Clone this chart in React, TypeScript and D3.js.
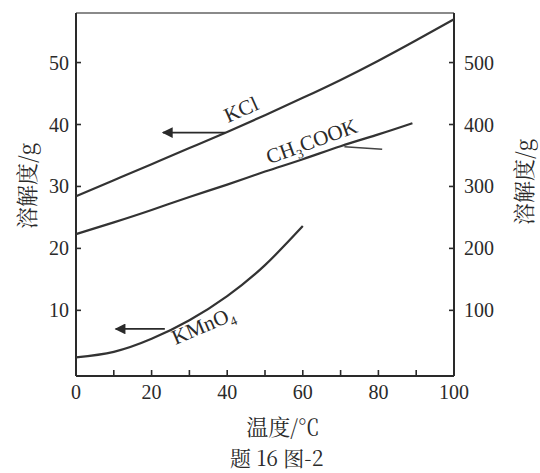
import React from "react";
import * as d3 from "d3";

const temps = [0, 10, 20, 30, 40, 50, 60, 70, 80, 90, 100];
const kclValues = [28.4, 31.0, 33.6, 36.2, 38.8, 41.5, 44.3, 47.2, 50.3, 53.6, 57.0];
const ch3cookTemps = [0, 10, 20, 30, 40, 50, 60, 70, 80, 89];
const ch3cookValues = [22.3, 24.2, 26.2, 28.3, 30.3, 32.4, 34.4, 36.5, 38.4, 40.2];
const kmno4Temps = [0, 10, 20, 30, 40, 50, 60];
const kmno4Values = [2.4, 3.3, 5.4, 8.4, 12.3, 17.3, 23.6];

const xTickLabels = [0, 20, 40, 60, 80, 100];
const xMinorTicks = [10, 20, 30, 40, 50, 60, 70, 80, 90];
const leftTicks = [10, 20, 30, 40, 50];
const rightTicks = [100, 200, 300, 400, 500];

const W = 540;
const H = 473;
const left = 76;
const right = 454;
const top = 13;
const bottom = 376;

const FONT = "'Liberation Serif', 'Times New Roman', serif";
const CJK = "'Noto Serif CJK SC', 'Noto Sans CJK SC', serif";
const INK = "#2a2a2a";

export default function App() {
  const x = d3.scaleLinear().domain([0, 100]).range([left, right]);
  const y = d3.scaleLinear().domain([-0.6, 58]).range([bottom, top]);
  const yR = d3.scaleLinear().domain([-6, 580]).range([bottom, top]);

  const line = d3
    .line<[number, number]>()
    .x((d) => x(d[0]))
    .y((d) => y(d[1]))
    .curve(d3.curveNatural);

  const kcl = line(temps.map((t, i) => [t, kclValues[i]]));
  const ch3 = line(ch3cookTemps.map((t, i) => [t, ch3cookValues[i]]));
  const kmn = line(kmno4Temps.map((t, i) => [t, kmno4Values[i]]));

  const kclArrowY = y(38.7);
  const kmnArrowY = y(7.0);

  return (
    <svg
      width={W}
      height={H}
      viewBox={`0 0 ${W} ${H}`}
      style={{ position: "fixed", left: 0, top: 0, background: "#fff" }}
    >
      <defs>
        <marker id="ah" viewBox="0 0 10 10" refX="9" refY="5" markerWidth="7" markerHeight="6" orient="auto">
          <path d="M10,5 L0,0 L0,10 Z" fill={INK} />
        </marker>
      </defs>
      <rect x={0} y={0} width={W} height={H} fill="#fff" />

      {/* frame */}
      <line x1={left} y1={top} x2={right} y2={top} stroke="#8a8a8a" strokeWidth={2.2} />
      <line x1={left} y1={top} x2={left} y2={bottom} stroke={INK} strokeWidth={2} />
      <line x1={right} y1={top} x2={right} y2={bottom} stroke={INK} strokeWidth={2} />
      <line x1={left} y1={bottom} x2={right} y2={bottom} stroke={INK} strokeWidth={2.2} />

      {/* x ticks */}
      {xMinorTicks.map((t) => (
        <line key={"xm" + t} x1={x(t)} x2={x(t)} y1={bottom} y2={bottom - 6} stroke={INK} strokeWidth={1.6} />
      ))}
      {xTickLabels.map((t) => (
        <text key={"xl" + t} x={x(t)} y={399} textAnchor="middle" fontFamily={FONT} fontSize={20} fill={INK}>
          {t}
        </text>
      ))}

      {/* left ticks */}
      {leftTicks.map((v) => (
        <g key={"l" + v}>
          <line x1={left} x2={left + 5} y1={y(v)} y2={y(v)} stroke={INK} strokeWidth={1.6} />
          <text x={69} y={y(v)} dy="0.35em" textAnchor="end" fontFamily={FONT} fontSize={20} fill={INK}>
            {v}
          </text>
        </g>
      ))}

      {/* right ticks */}
      {rightTicks.map((v) => (
        <g key={"r" + v}>
          <line x1={right - 5} x2={right} y1={yR(v)} y2={yR(v)} stroke={INK} strokeWidth={1.6} />
          <text x={464} y={yR(v)} dy="0.35em" textAnchor="start" fontFamily={FONT} fontSize={20} fill={INK}>
            {v}
          </text>
        </g>
      ))}

      {/* curves */}
      <path d={kcl || ""} fill="none" stroke="#333" strokeWidth={2.2} />
      <path d={ch3 || ""} fill="none" stroke="#333" strokeWidth={2.2} />
      <path d={kmn || ""} fill="none" stroke="#333" strokeWidth={2.2} />

      {/* arrows */}
      <line x1={x(39.5)} y1={kclArrowY} x2={x(23)} y2={kclArrowY} stroke={INK} strokeWidth={1.8} markerEnd="url(#ah)" />
      <line x1={x(23.5)} y1={kmnArrowY} x2={x(10.5)} y2={kmnArrowY} stroke={INK} strokeWidth={1.8} markerEnd="url(#ah)" />
      <line x1={x(71)} y1={y(36.4)} x2={x(81)} y2={y(36.0)} stroke="#444" strokeWidth={1.6} />

      {/* curve labels */}
      <text transform={`translate(244,116) rotate(-24)`} textAnchor="middle" fontFamily={FONT} fontSize={21} fill={INK}>
        KCl
      </text>
      <text transform={`translate(314,148) rotate(-20)`} textAnchor="middle" fontFamily={FONT} fontSize={21} fill={INK}>
        CH<tspan fontSize={13} dy={5}>3</tspan>
        <tspan dy={-5}>COOK</tspan>
      </text>
      <text transform={`translate(206,332) rotate(-23)`} textAnchor="middle" fontFamily={FONT} fontSize={21} fill={INK}>
        KMnO<tspan fontSize={13} dy={5}>4</tspan>
      </text>

      {/* axis titles */}
      <text transform={`translate(35,186) rotate(-90)`} textAnchor="middle" fontFamily={CJK} fontSize={22} fill={INK}>
        溶解度/g
      </text>
      <text transform={`translate(532,182) rotate(-90)`} textAnchor="middle" fontFamily={CJK} fontSize={22} fill={INK}>
        溶解度/g
      </text>
      <text x={283} y={435} textAnchor="middle" fontFamily={CJK} fontSize={22} fill={INK}>
        温度/℃
      </text>
      <text x={230} y={466} textAnchor="start" fontFamily={CJK} fontSize={21} fill={INK}>
        题 16 图-2
      </text>
    </svg>
  );
}
